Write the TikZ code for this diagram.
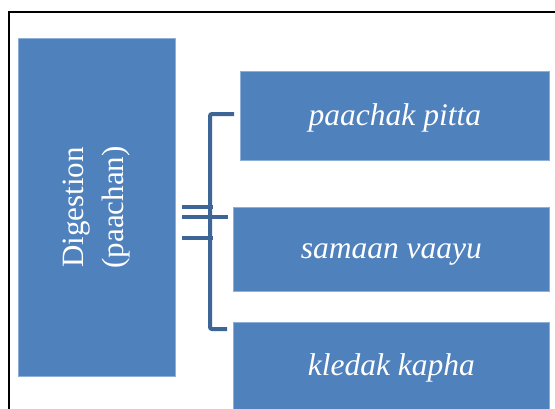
\documentclass[tikz,border=0pt]{standalone}
\usepackage{fontspec}
\setmainfont{Liberation Serif}
\usepackage{xcolor}
\usetikzlibrary{positioning, calc}
\definecolor{boxblue}{HTML}{4F81BD}
\definecolor{boxedge}{HTML}{8EAFD8}
\definecolor{bracketblue}{HTML}{3D6596}
\tikzset{
    box/.style={rectangle, fill=boxblue, draw=boxedge, line width=0.8pt, inner sep=0pt, anchor=north west}, % every blue block
    boxtext/.style={text=white, font=\fontsize{31}{40}\selectfont}, % white serif lettering
    parttext/.style={text=white, font=\fontsize{31.5}{38}\selectfont\itshape, anchor=base, inner sep=0pt}, % labels of the three parts
    bracket/.style={draw=bracketblue, line width=4pt, rounded corners=2pt}, % the joining bracket
    frame/.style={draw=black, line width=2pt}, % outer border
}

\begin{document}
\begin{tikzpicture}[x=1pt, y=-1pt]
        \useasboundingbox (0,0) rectangle (555,408);
        \clip (0,0) rectangle (555,408);
        \fill[white] (0,0) rectangle (555,408);
        \draw[frame] (9,12) rectangle (562,430);

        % main block
        \node[box, minimum width=157pt, minimum height=338pt] (digest) at (18,38) {};
        \node[boxtext, rotate=90, align=center] (digestlabel) at (digest.center) {Digestion\\(paachan)};

        % the three parts
        \node[box, minimum width=309pt, minimum height=89pt] (pitta) at (240,71) {};
        \node[box, minimum width=316pt, minimum height=84pt] (vaayu) at (233,207) {};
        \node[box, minimum width=316pt, minimum height=88pt] (kapha) at (233,322) {};
        \node[parttext] (pittalabel) at ($(pitta.center)+(0,9.5)$) {paachak pitta};
        \node[parttext] (vaayulabel) at ($(vaayu.center)+(0,9.5)$) {samaan vaayu};
        \node[parttext] (kaphalabel) at ($(kapha.center)+(0,9)$) {kledak kapha};

        % bracket
        \coordinate (brtop) at (210,114);
        \coordinate (brbot) at (210,329);
        \draw[bracket] ($(brtop)+(24,0)$) -- (brtop) -- (brbot) -- ++(17,0);
        \draw[bracket] ($(digest.east |- 0,207)+(6,0)$) -- (213,207);
        \draw[bracket] ($(digest.east |- 0,217)+(6,0)$) -- (228,217);
        \draw[bracket] ($(digest.east |- 0,238)+(6,0)$) -- (213,238);

    \end{tikzpicture}
\end{document}
